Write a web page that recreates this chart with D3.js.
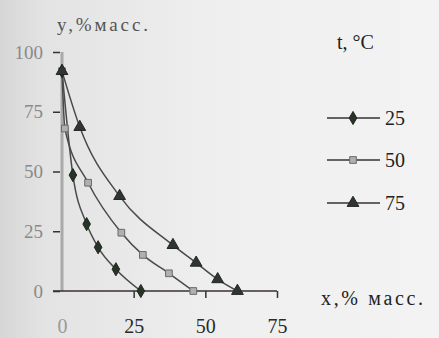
<!DOCTYPE html>
<html>
<head>
	<meta charset="UTF-8">
	<title>chart</title>
	<script src="https://cdn.jsdelivr.net/npm/d3@7"></script>
	<style>
		body { margin: 0; background: #eeeeee; }
	</style>
</head>
<body>
	<script>
		// data
		var x25 = [0, 3.8, 8.6, 12.6, 18.8, 27.5];
		var y25 = [92, 48.5, 28, 18.3, 9.1, 0];
		var x50 = [0, 1, 9.1, 20.7, 28.2, 37.3, 45.8];
		var y50 = [92, 68, 45.3, 24.4, 15.1, 7.4, 0];
		var x75 = [0, 6.2, 20.1, 38.7, 46.8, 54.3, 61.2];
		var y75 = [92, 68.6, 39.7, 19.2, 11.8, 4.9, 0];
		var temps = ['25', '50', '75'];
		var xTicks = [0, 25, 50, 75];
		var yTicks = [0, 25, 50, 75, 100];

		var width = 439, height = 338;
		var serif = '"Liberation Serif", "Times New Roman", Times, "DejaVu Serif", "Noto Serif", serif';

		var svg = d3.select('body')
			.append('svg')
			.attr('width', width)
			.attr('height', height)
			.attr('font-family', serif);

		// scanned-page background
		var grad = svg.append('defs').append('linearGradient')
			.attr('id', 'bg').attr('x1', 0).attr('x2', 1).attr('y1', 0).attr('y2', 0);
		grad.append('stop').attr('offset', '0').attr('stop-color', '#d6d6d6');
		grad.append('stop').attr('offset', '0.1').attr('stop-color', '#e3e3e3');
		grad.append('stop').attr('offset', '0.5').attr('stop-color', '#efefef');
		grad.append('stop').attr('offset', '1').attr('stop-color', '#f3f3f3');
		svg.append('rect').attr('width', width).attr('height', height).attr('fill', 'url(#bg)');

		var x = d3.scaleLinear().domain([0, 75]).range([62, 277]);
		var y = d3.scaleLinear().domain([0, 100]).range([291, 52]);

		function zip(xs, ys) {
			return xs.map(function(v, i) { return {x: v, y: ys[i]}; });
		}
		var series = [
			{name: temps[0], data: zip(x25, y25), sym: d3.symbolDiamond, size: 50, fill: '#263326', stroke: '#1e261e'},
			{name: temps[1], data: zip(x50, y50), sym: d3.symbolSquare, size: 45, fill: '#b0b0b0', stroke: '#6a6a6a'},
			{name: temps[2], data: zip(x75, y75), sym: d3.symbolTriangle, size: 60, fill: '#2f3530', stroke: '#262626'}
		];

		// Y axis: light thick line with dark ticks
		svg.append('line')
			.attr('x1', x(0)).attr('x2', x(0))
			.attr('y1', y(100)).attr('y2', y(0))
			.attr('stroke', '#a9a9a9').attr('stroke-width', 3);
		var yAxis = svg.append('g')
			.attr('transform', 'translate(' + (x(0) - 2) + ',0)')
			.call(d3.axisLeft(y).tickValues(yTicks).tickSize(7).tickPadding(10));
		yAxis.attr('font-family', serif);
		yAxis.select('.domain').remove();
		yAxis.selectAll('.tick line').attr('stroke', '#333').attr('stroke-width', 1.5);
		yAxis.selectAll('.tick text')
			.attr('fill', '#8a8a8a')
			.attr('font-family', serif)
			.attr('font-size', 19);

		// X axis
		var xAxis = svg.append('g')
			.attr('transform', 'translate(0,' + y(0) + ')')
			.call(d3.axisBottom(x).tickValues(xTicks).tickSize(7).tickSizeOuter(0).tickPadding(21));
		xAxis.attr('font-family', serif);
		xAxis.select('.domain').remove();
		xAxis.append('line')
			.attr('x1', 53).attr('x2', x(75))
			.attr('stroke', '#3a3030').attr('stroke-width', 1.6);
		xAxis.selectAll('.tick line').attr('stroke', '#333').attr('stroke-width', 1.5)
			.filter(function(d) { return d === 0; }).remove();
		xAxis.selectAll('.tick text')
			.attr('fill', function(d) { return d === 0 ? '#9a9a9a' : '#2a2a2a'; })
			.attr('font-family', serif)
			.attr('font-size', 20);

		var line = d3.line()
			.x(function(d) { return x(d.x); })
			.y(function(d) { return y(d.y); })
			.curve(d3.curveMonotoneX);

		series.forEach(function(s) {
			svg.append('path')
				.datum(s.data)
				.attr('d', line)
				.attr('fill', 'none')
				.attr('stroke', '#4a4a4a')
				.attr('stroke-width', 1.5);
		});

		series.forEach(function(s) {
			svg.selectAll(null)
				.data(s.data)
				.enter().append('path')
				.attr('transform', function(d) { return 'translate(' + x(d.x) + ',' + y(d.y) + ')'; })
				.attr('d', d3.symbol().type(s.sym).size(s.size))
				.attr('fill', s.fill)
				.attr('stroke', s.stroke)
				.attr('stroke-width', 1);
		});

		// axis titles
		svg.append('text')
			.attr('x', 57).attr('y', 31)
			.attr('textLength', 91)
			.attr('fill', '#555')
			.attr('font-size', 19)
			.text('y,%масс.');

		svg.append('text')
			.attr('x', 321).attr('y', 305)
			.attr('textLength', 102)
			.attr('fill', '#222')
			.attr('font-size', 20)
			.text('x,% масс.');

		// legend
		svg.append('text')
			.attr('x', 337).attr('y', 49)
			.attr('fill', '#222')
			.attr('font-size', 20)
			.text('t, °C');

		var legendY = [118, 160, 203];
		series.forEach(function(s, i) {
			var g = svg.append('g').attr('transform', 'translate(0,' + legendY[i] + ')');
			g.append('line')
				.attr('x1', 327).attr('x2', 380)
				.attr('stroke', '#333').attr('stroke-width', 1.4);
			g.append('path')
				.attr('transform', 'translate(353,0)')
				.attr('d', d3.symbol().type(s.sym).size(s.size))
				.attr('fill', s.fill)
				.attr('stroke', s.stroke);
			g.append('text')
				.attr('x', 385).attr('y', 7)
				.attr('fill', '#222')
				.attr('font-size', 20)
				.text(s.name);
		});
	</script>
</body>
</html>
